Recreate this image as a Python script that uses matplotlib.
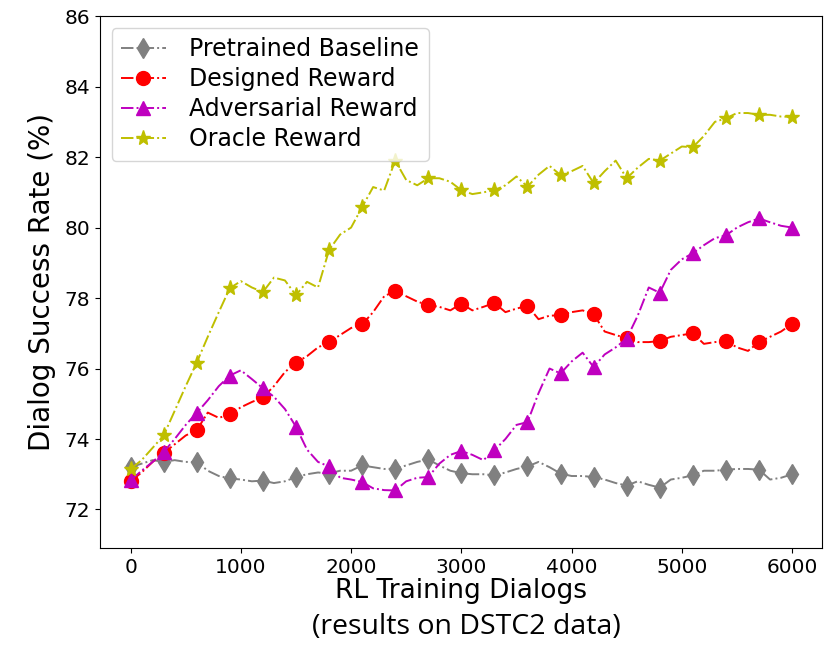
import matplotlib
matplotlib.use("Agg")
import matplotlib.pyplot as plt

# training dialogs, every 100 (markers drawn every 300)
dialogs = list(range(0, 6100, 100))

baseline = [73.2, 73.3, 73.4, 73.35, 73.4, 73.35, 73.35, 73.1, 72.95, 72.88,
            72.85, 72.8, 72.82, 72.75, 72.8, 72.92, 73.0, 73.05, 73.02, 73.1,
            73.1, 73.25, 73.2, 73.15, 73.16, 73.25, 73.35, 73.42, 73.25, 73.1,
            73.03, 73.0, 73.0, 72.97, 73.05, 73.15, 73.22, 73.35, 73.2, 73.02,
            72.95, 72.95, 72.92, 72.85, 72.75, 72.68, 72.8, 72.7, 72.62, 72.85,
            72.9, 72.97, 73.1, 73.1, 73.13, 73.15, 73.15, 73.13, 72.85, 72.9,
            73.0]

designed = [72.8, 73.05, 73.35, 73.6, 73.85, 74.1, 74.25, 74.75, 74.6, 74.7,
            74.9, 75.05, 75.18, 75.5, 75.9, 76.17, 76.35, 76.6, 76.75, 76.95,
            77.15, 77.25, 77.6, 78.05, 78.2, 78.05, 77.9, 77.8, 77.75, 77.65,
            77.84, 77.65, 77.75, 77.86, 77.6, 77.7, 77.78, 77.4, 77.5, 77.51,
            77.6, 77.65, 77.54, 77.05, 76.95, 76.86, 76.75, 76.75, 76.78, 76.9,
            76.95, 77.0, 76.7, 76.75, 76.78, 76.6, 76.5, 76.75, 76.9, 77.05,
            77.27]

adversarial = [72.83, 73.1, 73.35, 73.63, 74.0, 74.4, 74.74, 75.1, 75.5, 75.8,
               75.95, 75.7, 75.44, 75.2, 74.85, 74.35, 73.7, 73.35, 73.22, 72.9,
               72.85, 72.78, 72.6, 72.55, 72.54, 72.8, 72.9, 72.92, 73.3, 73.55,
               73.66, 73.55, 73.4, 73.68, 74.0, 74.4, 74.48, 75.3, 76.0, 75.86,
               76.2, 76.45, 76.04, 76.4, 76.6, 76.85, 77.5, 78.3, 78.15, 78.8,
               79.1, 79.27, 79.5, 79.7, 79.78, 80.0, 80.15, 80.26, 80.15, 80.05,
               80.0]

oracle = [73.15, 73.4, 73.75, 74.1, 74.8, 75.5, 76.17, 76.9, 77.6, 78.28,
          78.48, 78.3, 78.17, 78.58, 78.5, 78.08, 78.46, 78.3, 79.36, 79.8,
          80.0, 80.58, 81.15, 81.05, 81.9, 81.35, 81.2, 81.4, 81.4, 81.3,
          81.06, 80.95, 81.0, 81.06, 81.2, 81.45, 81.16, 81.5, 81.75, 81.49,
          81.6, 81.75, 81.26, 81.6, 81.9, 81.4, 81.7, 81.95, 81.9, 82.1,
          82.3, 82.28, 82.6, 83.0, 83.1, 83.25, 83.25, 83.2, 83.2, 83.15,
          83.14]

fig = plt.figure(figsize=(8.31, 6.45), dpi=100)
ax = fig.add_axes([0.120, 0.150, 0.869, 0.825])

ax.plot(dialogs, baseline, '-.', color='grey', marker='d', markersize=10,
        markevery=3, linewidth=1.4, label='Pretrained Baseline')
ax.plot(dialogs, designed, '-.', color='r', marker='o', markersize=10,
        markevery=3, linewidth=1.4, label='Designed Reward')
ax.plot(dialogs, adversarial, '-.', color='m', marker='^', markersize=10,
        markevery=3, linewidth=1.4, label='Adversarial Reward')
ax.plot(dialogs, oracle, '-.', color='y', marker='*', markersize=11,
        markevery=3, linewidth=1.4, label='Oracle Reward')

ax.set_xlim(-280, 6270)
ax.set_ylim(70.9, 86)
ax.set_xticks([0, 1000, 2000, 3000, 4000, 5000, 6000])
ax.set_yticks([72, 74, 76, 78, 80, 82, 84, 86])
ax.tick_params(labelsize=14.5)
ax.set_xlabel('RL Training Dialogs', fontsize=19, labelpad=1)
ax.set_ylabel('Dialog Success Rate (%)', fontsize=20, labelpad=6)
ax.legend(loc='upper left', fontsize=17, numpoints=1, handlelength=1.9,
          handletextpad=1.0, labelspacing=0.25)

fig.text(0.561, 0.028, '(results on DSTC2 data)', fontsize=20.5,
         family='Open Sans', ha='center', va='center')

fig.savefig('out.png', dpi=100)
